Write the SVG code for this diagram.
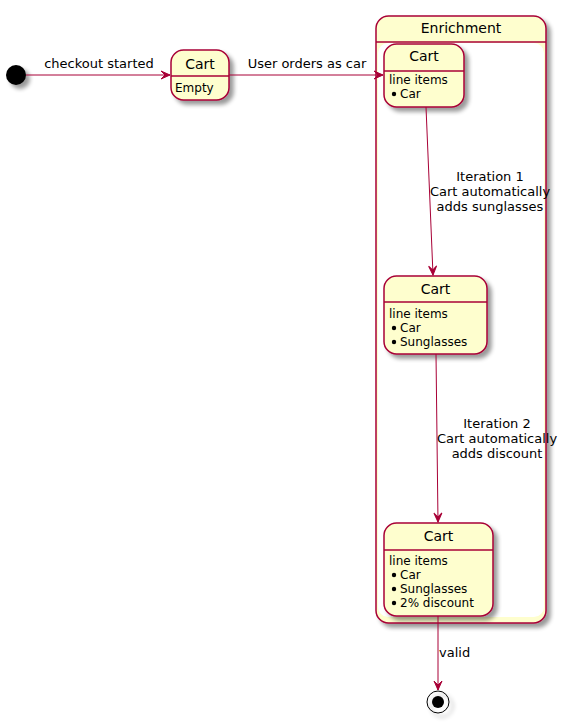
<svg xmlns="http://www.w3.org/2000/svg" width="566" height="722" viewBox="0 0 566 722">
<style>
.st{fill:#FEFECE;stroke:#A80036;stroke-width:1.5}
.dv{stroke:#A80036;stroke-width:1.5}
.t{font-family:"DejaVu Sans",sans-serif;font-size:14px;fill:#000;text-anchor:middle}
.b{font-family:"DejaVu Sans",sans-serif;font-size:12px;fill:#000}
.bul{fill:#000}
.l{font-family:"DejaVu Sans",sans-serif;font-size:13px;fill:#000}
.lc{font-family:"DejaVu Sans",sans-serif;font-size:13px;fill:#000;text-anchor:middle}
.e{stroke:#A80036;stroke-width:1;fill:none}
</style>
<defs>
<filter id="sh" x="-20%" y="-20%" width="160%" height="160%">
<feGaussianBlur in="SourceAlpha" stdDeviation="2" result="b"/>
<feOffset in="b" dx="4" dy="4" result="o"/>
<feComponentTransfer in="o" result="c"><feFuncA type="linear" slope="0.4"/></feComponentTransfer>
<feMerge><feMergeNode in="c"/><feMergeNode in="SourceGraphic"/></feMerge>
</filter>
<marker id="ah" viewBox="-10 -5 11 10" refX="0" refY="0" markerWidth="11" markerHeight="10" markerUnits="userSpaceOnUse" orient="auto">
<path d="M0,0 L-9,-4 L-5,0 L-9,4 Z" fill="#A80036" stroke="#A80036" stroke-width="1"/>
</marker>
</defs>

<g id="start">
<circle cx="16" cy="75" r="10" fill="#000" filter="url(#sh)"/>
</g>

<g id="cart_empty">
<rect class="st" x="171" y="50" width="58" height="50" rx="12.5" filter="url(#sh)"/>
<line class="dv" x1="171" y1="76" x2="229" y2="76"/>
<text class="t" x="200" y="69">Cart</text>
<text class="b" x="175" y="92">Empty</text>
</g>

<g id="enrichment">
<rect class="st" x="376" y="16" width="170" height="607" rx="12.5" filter="url(#sh)"/>
<rect x="378" y="43" width="166" height="574" rx="10" fill="#FFFFFF"/>
<line class="dv" x1="376" y1="42" x2="546" y2="42"/>
<text class="t" x="461" y="33">Enrichment</text>
</g>

<g id="cart_car">
<rect class="st" x="384" y="44" width="80" height="63" rx="12.5" filter="url(#sh)"/>
<line class="dv" x1="384" y1="71" x2="464" y2="71"/>
<text class="t" x="424" y="61">Cart</text>
<text class="b" x="389" y="84">line items</text>
<circle class="bul" cx="394" cy="94" r="2.2"/>
<text class="b" x="400" y="98">Car</text>
</g>

<g id="cart_sunglasses">
<rect class="st" x="384" y="276" width="103" height="78" rx="12.5" filter="url(#sh)"/>
<line class="dv" x1="384" y1="302" x2="487" y2="302"/>
<text class="t" x="435.5" y="294">Cart</text>
<text class="b" x="389" y="318">line items</text>
<circle class="bul" cx="394" cy="328" r="2.2"/>
<text class="b" x="400" y="332">Car</text>
<circle class="bul" cx="394" cy="342" r="2.2"/>
<text class="b" x="400" y="346">Sunglasses</text>
</g>

<g id="cart_discount">
<rect class="st" x="384" y="523" width="109" height="93" rx="12.5" filter="url(#sh)"/>
<line class="dv" x1="384" y1="550" x2="493" y2="550"/>
<text class="t" x="438.5" y="541">Cart</text>
<text class="b" x="389" y="565">line items</text>
<circle class="bul" cx="394" cy="575" r="2.2"/>
<text class="b" x="400" y="579">Car</text>
<circle class="bul" cx="394" cy="589" r="2.2"/>
<text class="b" x="400" y="593">Sunglasses</text>
<circle class="bul" cx="394" cy="603" r="2.2"/>
<text class="b" x="400" y="607">2% discount</text>
</g>

<g id="end">
<circle cx="438" cy="702" r="11" fill="none" stroke="#000" stroke-width="1" filter="url(#sh)"/>
<circle cx="438" cy="702" r="6" fill="#000"/>
</g>

<g id="connectors">
<line class="e" x1="26" y1="75" x2="170" y2="75" marker-end="url(#ah)"/>
<text class="lc" x="99" y="68">checkout started</text>
<line class="e" x1="229" y1="75" x2="383" y2="75" marker-end="url(#ah)"/>
<text class="lc" x="307" y="68">User orders as car</text>
<line class="e" x1="426" y1="107" x2="433" y2="275" marker-end="url(#ah)"/>
<text class="lc" x="490" y="181">Iteration 1</text>
<text class="lc" x="490" y="196">Cart automatically</text>
<text class="lc" x="490" y="211">adds sunglasses</text>
<line class="e" x1="436" y1="354" x2="438" y2="522" marker-end="url(#ah)"/>
<text class="lc" x="497" y="428">Iteration 2</text>
<text class="lc" x="497" y="443">Cart automatically</text>
<text class="lc" x="497" y="458">adds discount</text>
<line class="e" x1="438" y1="616" x2="438" y2="690" marker-end="url(#ah)"/>
<text class="l" x="439" y="657">valid</text>
</g>
</svg>
